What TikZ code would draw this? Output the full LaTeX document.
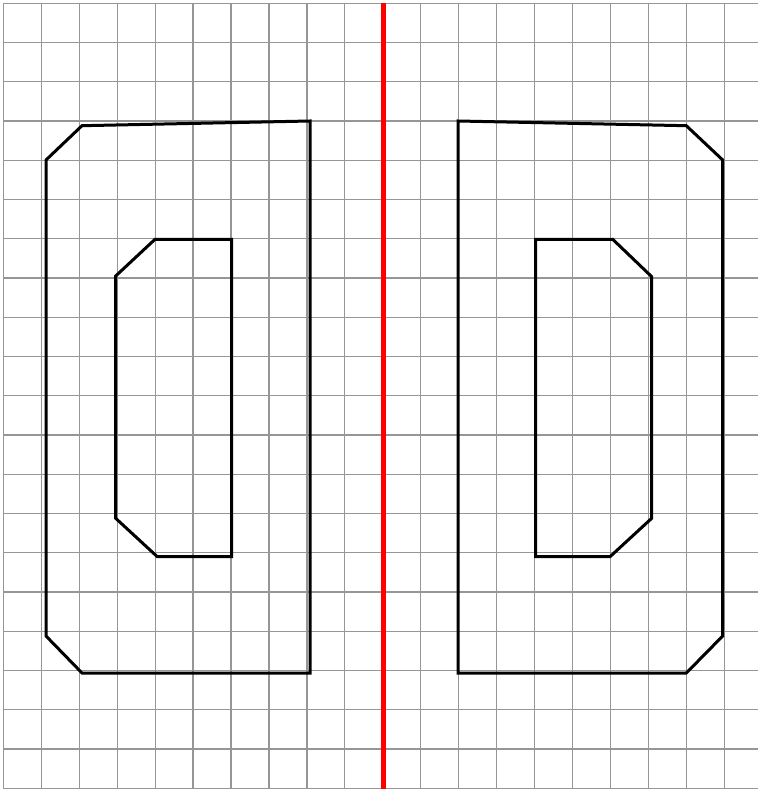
\documentclass[tikz,border=0pt]{standalone}
\definecolor{gridgray}{RGB}{150,150,150}
\begin{document}
\begin{tikzpicture}[x=1pt,y=-1pt,
  gridline/.style={gridgray,line width=1.2pt},
  axisline/.style={red,line width=5pt},
  outline/.style={black,line width=3pt,line join=miter}]
\useasboundingbox (0,0) rectangle (758,789);
% grid
\foreach \i in {0,...,19} {
  \draw[gridline] ({3.3+37.95*\i},3.3) -- ({3.3+37.95*\i},788.3);
}
\foreach \j in {0,...,20} {
  \draw[gridline] (3.3,{3.3+39.25*\j}) -- (758,{3.3+39.25*\j});
}
% mirror line
\draw[axisline] (383.3,3.3) -- (383.3,789);
% left outer
\draw[outline] (46,160) -- (82,125.7) -- (310,121) -- (310,673) -- (82,673) -- (46,636) -- cycle;
% left inner
\draw[outline] (115.7,276) -- (155,239.3) -- (231.7,239.3) -- (231.7,556.7) -- (157.3,556.7) -- (115.7,518.3) -- cycle;
% right outer
\draw[outline] (722.7,160) -- (686.3,125.7) -- (458,121) -- (458,673) -- (686.3,673) -- (722.7,636) -- cycle;
% right inner
\draw[outline] (535.7,239.3) -- (612.7,239.3) -- (651.7,276.7) -- (651.7,518.3) -- (610,556.7) -- (535.7,556.7) -- cycle;
\end{tikzpicture}
\end{document}
